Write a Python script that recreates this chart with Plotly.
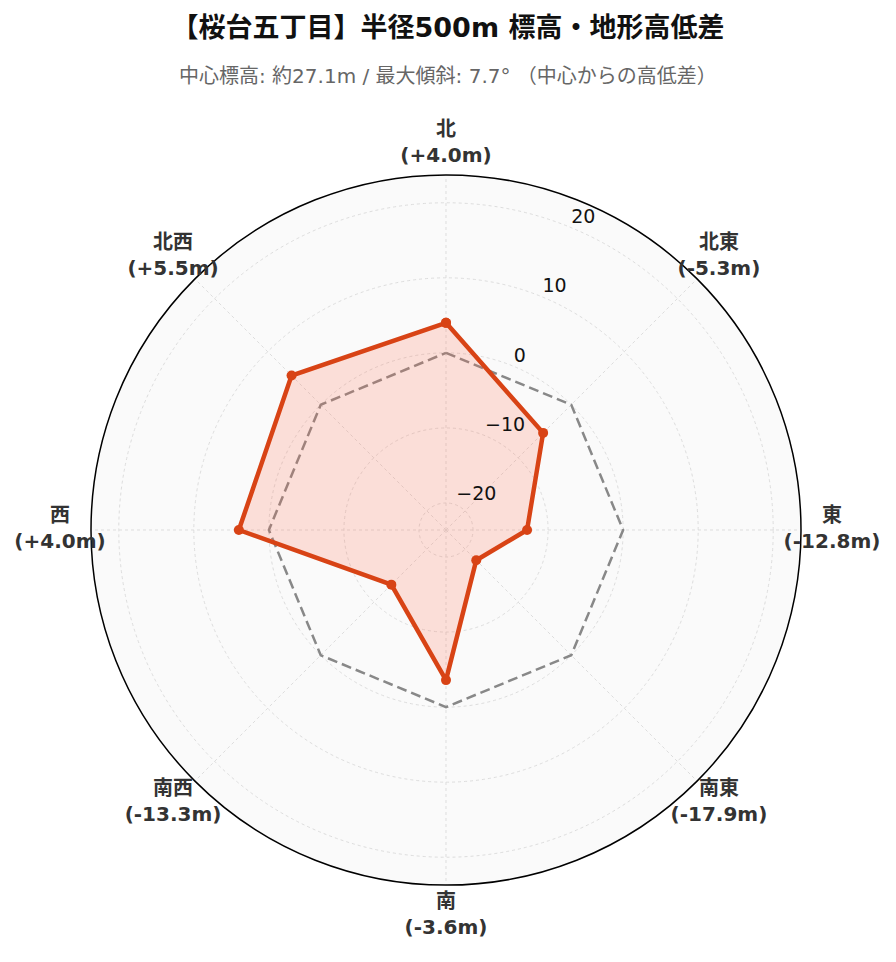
import plotly.graph_objects as go

# 方角ごとの高低差（中心からの差, m）
directions = ["北", "北東", "東", "南東", "南", "南西", "西", "北西"]
angles = [0, 45, 90, 135, 180, 225, 270, 315]
diffs = [4.0, -5.3, -12.8, -17.9, -3.6, -13.3, 4.0, 5.5]
baseline = [0, 0, 0, 0, 0, 0, 0, 0]
radial_ticks = [-20, -10, 0, 10, 20]

center_elev = 27.1
max_slope = 7.7
area = "桜台五丁目"

dir_labels = [f"{d}<br>({v:+.1f}m)" for d, v in zip(directions, diffs)]
radial_labels = [str(t).replace("-", "\u2212") for t in radial_ticks]

FONT = "DejaVu Sans, Noto Sans CJK JP, sans-serif"
W, H = 880, 946
CX, CY, RAD = 438, 522, 355   # レーダーの中心と半径 (px)
LBL_RAD = 400                  # ラベル用の透明な極座標の半径 (px)
LABEL_R = 386 / LBL_RAD        # 方角ラベルの位置
TICK_THETA = 22.5              # 目盛りラベルの方向


def dom(rad):
    return dict(x=[(CX - rad) / W, (CX + rad) / W],
                y=[(H - CY - rad) / H, (H - CY + rad) / H])


fig = go.Figure()

fig.add_trace(go.Scatterpolar(
    r=baseline + baseline[:1], theta=angles + angles[:1], mode="lines",
    line=dict(color="#888888", width=2.5, dash="10px,5px"),
    hoverinfo="skip", showlegend=False))

fig.add_trace(go.Scatterpolar(
    r=diffs + diffs[:1], theta=angles + angles[:1], mode="lines+markers",
    fill="toself", fillcolor="rgba(255,110,80,0.2)",
    line=dict(color="#D84315", width=4.5),
    marker=dict(size=10, color="#D84315"),
    showlegend=False))

# 半径方向の目盛りラベル
fig.add_trace(go.Scatterpolar(
    r=radial_ticks, theta=[TICK_THETA] * len(radial_ticks), mode="text",
    text=radial_labels, textposition="top right", cliponaxis=False,
    textfont=dict(family=FONT, size=19, color="#111"),
    hoverinfo="skip", showlegend=False))

# 方角ラベル（外側の透明な極座標に配置）
fig.add_trace(go.Scatterpolar(
    r=[LABEL_R] * len(angles), theta=angles, mode="text", subplot="polar2",
    text=dir_labels, textposition="middle center",
    textfont=dict(family=FONT, size=20, color="#333", weight="bold"),
    hoverinfo="skip", showlegend=False))

fig.update_layout(
    width=W, height=H,
    paper_bgcolor="white",
    font=dict(family=FONT, color="#333"),
    margin=dict(l=0, r=0, t=0, b=0),
    title=dict(text=f"<b>【{area}】半径500m 標高・地形高低差</b>",
               x=0.5, xanchor="center", y=1 - 20 / H, yanchor="middle",
               font=dict(family=FONT, size=27, color="#111")),
    annotations=[dict(
        text=f"中心標高: 約{center_elev}m / 最大傾斜: {max_slope}° （中心からの高低差）",
        xref="paper", yref="paper", x=0.5, y=1 - 68 / H, yanchor="middle",
        showarrow=False, font=dict(family=FONT, size=20, color="#666"))],
    polar=dict(
        domain=dom(RAD),
        bgcolor="#fafafa",
        radialaxis=dict(range=[-23.6, 23.7], showticklabels=False,
                        showline=False, ticks="", tickvals=radial_ticks,
                        gridcolor="#dddddd", griddash="dot"),
        angularaxis=dict(rotation=90, direction="clockwise",
                         tickmode="array", tickvals=angles,
                         showticklabels=False, ticks="",
                         linecolor="black", linewidth=1.5,
                         gridcolor="#dddddd", griddash="dot"),
    ),
    polar2=dict(
        domain=dom(LBL_RAD),
        bgcolor="rgba(0,0,0,0)",
        radialaxis=dict(range=[0, 1], visible=False),
        angularaxis=dict(rotation=90, direction="clockwise", visible=False),
    ),
)

fig.write_html("out.html")
